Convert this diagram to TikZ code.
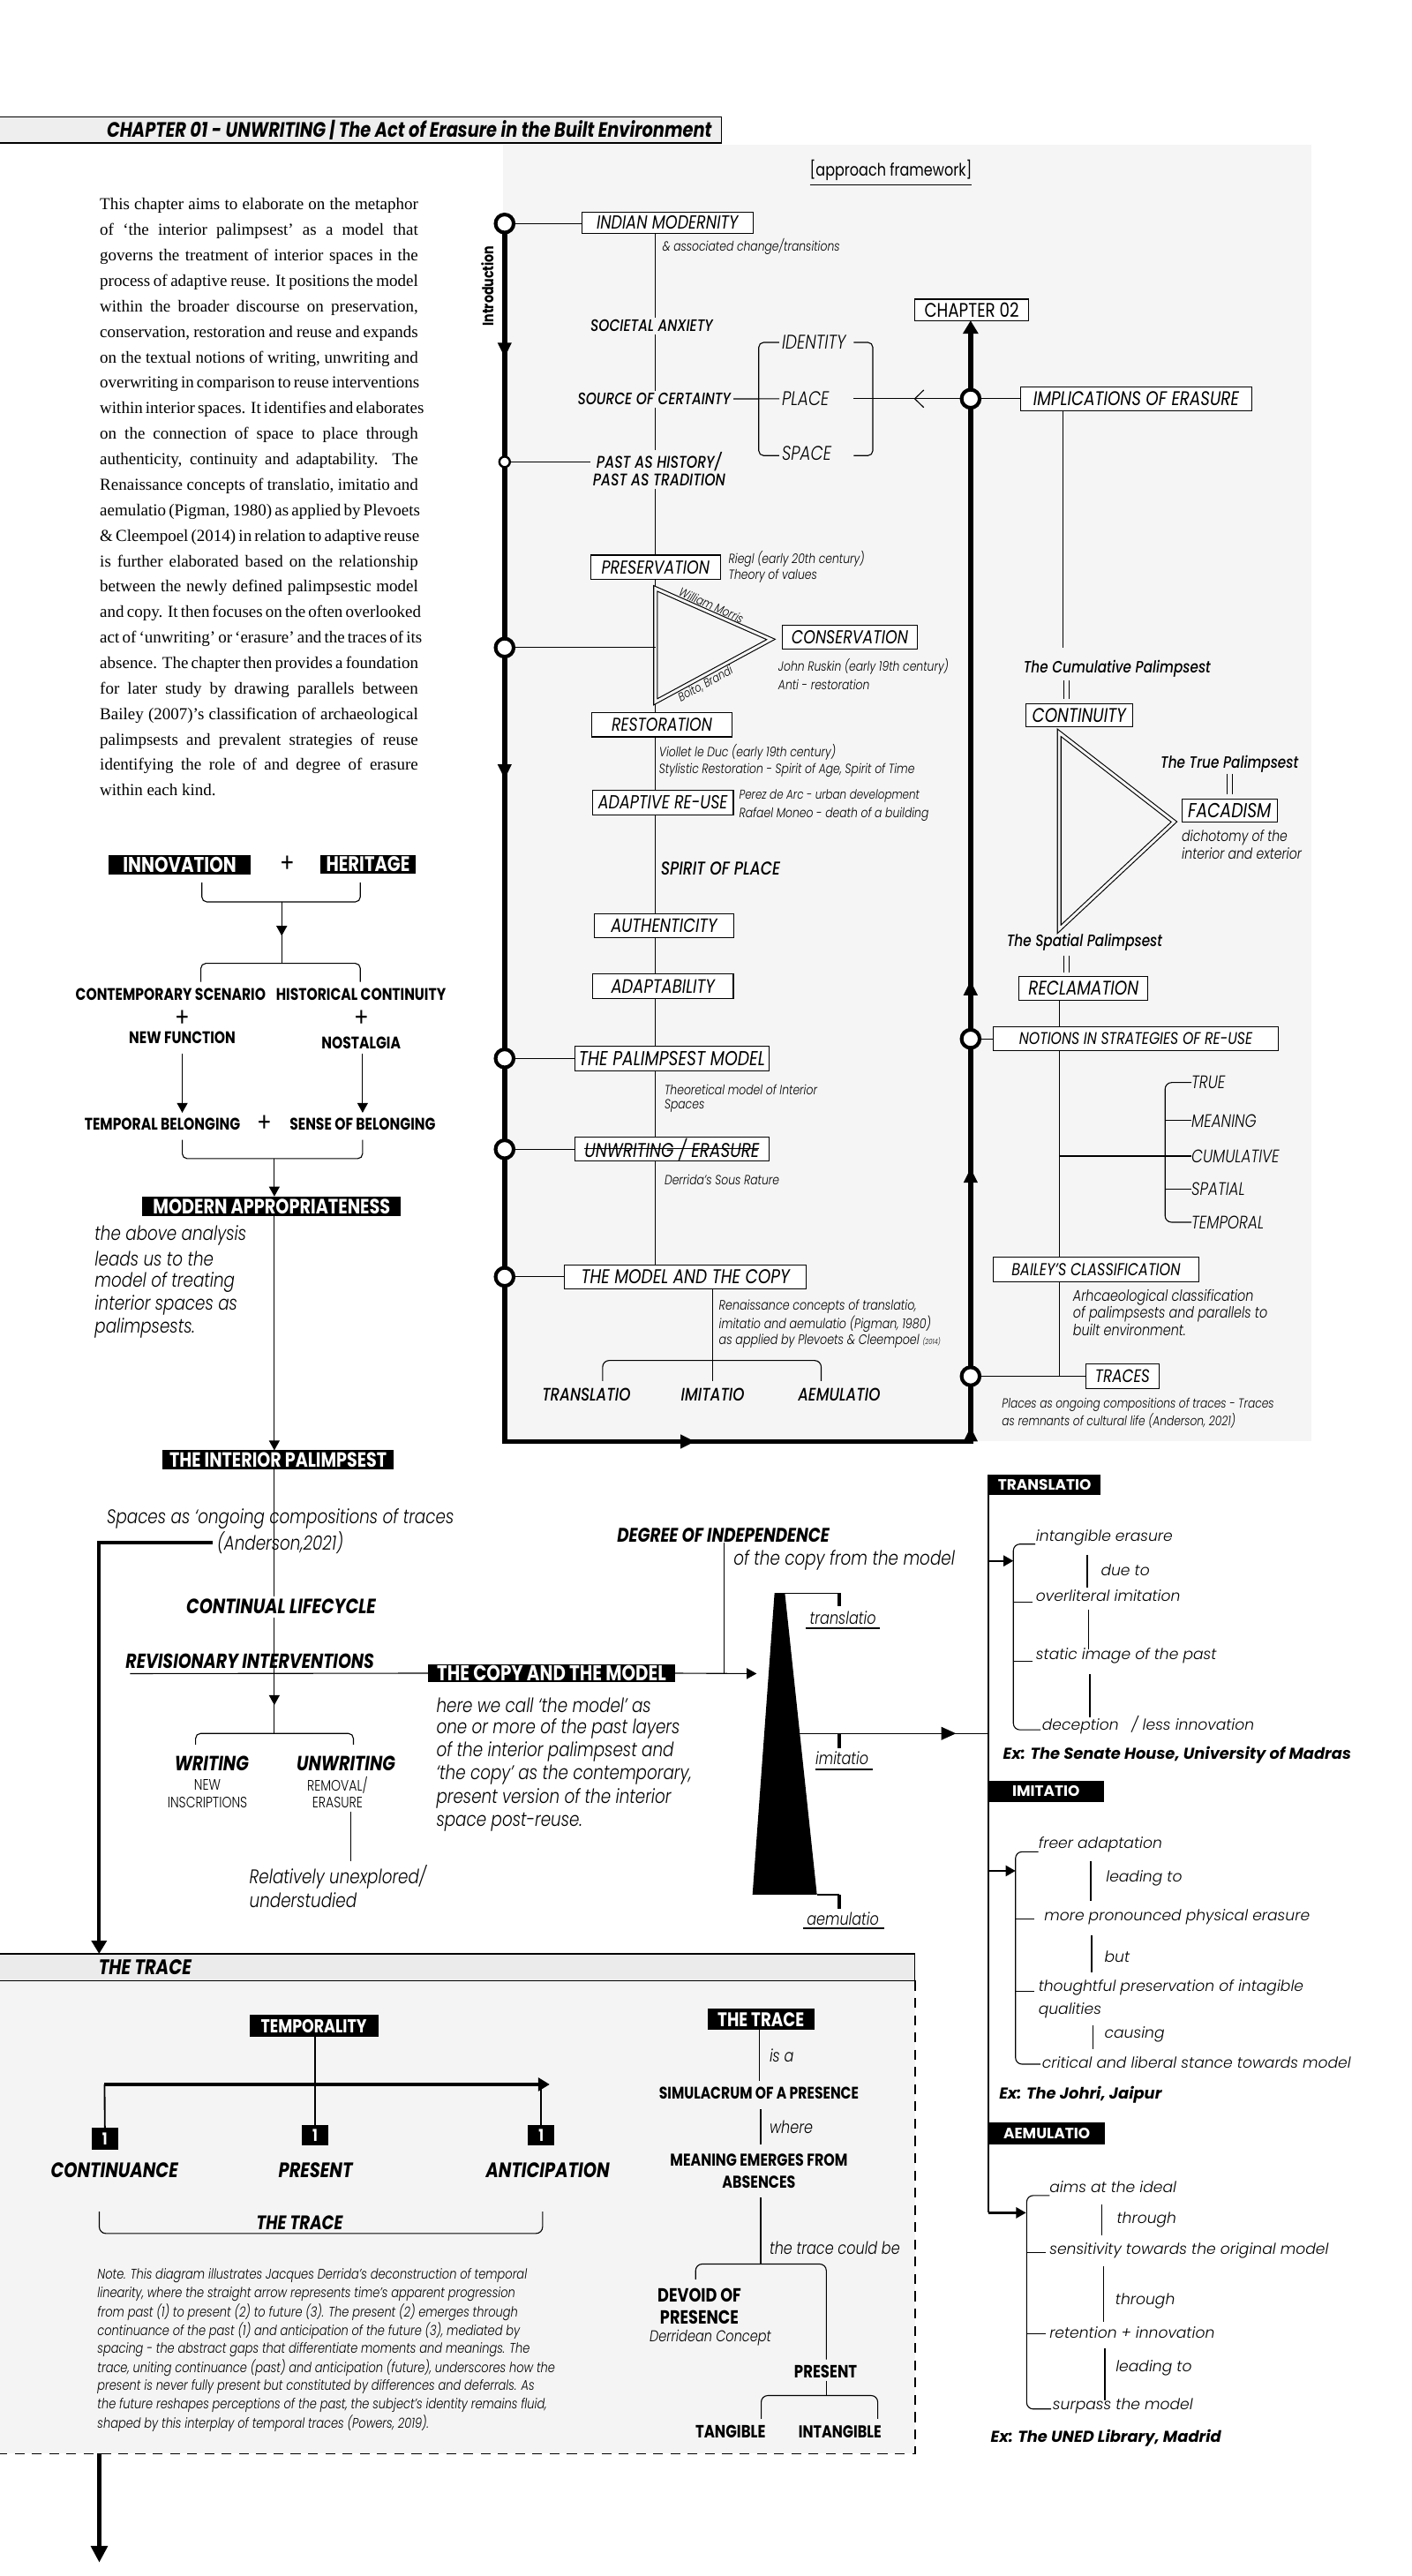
\documentclass[tikz,border=0pt]{standalone}
\usepackage{fontspec}
\setmainfont{Liberation Serif}
\newfontfamily\fu[FakeStretch=0.82]{Poppins}
\newfontfamily\cg{Poppins}
\IfFontExistsTF{Poppins Light}
 {\newfontfamily\ful[FakeStretch=0.82]{Poppins Light}\newfontfamily\cgl{Poppins Light}}
 {\newfontfamily\ful[FakeStretch=0.82]{Poppins}\newfontfamily\cgl{Poppins}}
\IfFontExistsTF{Poppins Medium}
 {\newfontfamily\fum[FakeStretch=0.82]{Poppins Medium}}
 {\newfontfamily\fum[FakeStretch=0.82]{Poppins}}
\usetikzlibrary{arrows.meta}
\newcommand\fsz[1]{\fontsize{#1}{#1}\selectfont}
\definecolor{panel}{HTML}{F5F5F5}
\definecolor{hdrg}{HTML}{EEEEEE}
\definecolor{trh}{HTML}{EBEBEB}
\definecolor{trb}{HTML}{F4F4F4}
\pgfdeclarelayer{bg}
\pgfdeclarelayer{ln}
\pgfsetlayers{bg,ln,main}
\begin{document}
\begin{tikzpicture}[x=1pt,y=-1pt,
  every node/.style={inner sep=0pt,outer sep=0pt},
  thn/.style={line width=0.6pt},
  vb/.style={line width=0.9pt},
  thk/.style={line width=3pt},
  bx/.style={draw,line width=0.6pt,fill=white,font=\fu\itshape\fsz{11.8}},
  bf/.style={font=\fu\itshape\fsz{#1}},
  blk/.style={fill=black,text=white,font=\fu\bfseries\fsz{10.5}},
  cL/.style={circle,draw,line width=2.2pt,fill=white,minimum size=11pt},
  cS/.style={circle,draw,line width=1.3pt,fill=white,minimum size=6.4pt},
  lab/.style={font=\fum\itshape\fsz{10.1},fill=panel,inner sep=1.5pt},
  nt/.style={anchor=west,font=\ful\itshape\fsz{8.1}},
  bt/.style={font=\fu\bfseries\fsz{10.2}},
  bi/.style={font=\fu\bfseries\itshape\fsz{12.5}},
  li/.style={anchor=west,font=\ful\itshape\fsz{12}},
  rc/.style={anchor=west,font=\cgl\itshape\fsz{9.2}},
  rb/.style={fill=black,text=white,font=\cg\bfseries\fsz{9.1}},
  ex/.style={anchor=west,font=\cg\bfseries\itshape\fsz{9.6}},
  tipB/.style={-{Triangle[length=8pt,width=9pt]}},
  tipM/.style={-{Triangle[length=9pt,width=8pt]}},
  tipS/.style={-{Triangle[length=6pt,width=6.5pt]}},
  dbl/.style={line width=0.6pt,double=panel,double distance=1.6pt,line join=miter}
]
\useasboundingbox (0,0) rectangle (859,1567.2);
\begin{pgfonlayer}{bg}
 \fill[white] (0,0) rectangle (859,1567.2);
 \fill[panel] (306,88) rectangle (798,877);
 \fill[trb] (0,1205) rectangle (556.6,1492.8);
\end{pgfonlayer}

% ---------------- header
\node[fill=hdrg,anchor=north west,minimum width=439pt,minimum height=16pt] (hdrbox) at (0,71) {};
\draw[line width=0.7pt] (hdrbox.north west) -- (hdrbox.north east) -- (hdrbox.south east) -- (hdrbox.south west);
\node[anchor=base east,font=\fu\bfseries\itshape\fsz{12.7}] (hdr) at (433,83.7) {CHAPTER 01 - UNWRITING | The Act of Erasure in the Built Environment};

% ---------------- paragraph
\foreach \pl [count=\i from 0] in {
 {This chapter aims to elaborate on the metaphor},
 {of ‘the interior palimpsest’ as a model that},
 {governs the treatment of interior spaces in the},
 {process of adaptive reuse. It positions the model},
 {within the broader discourse on preservation,},
 {conservation, restoration and reuse and expands},
 {on the textual notions of writing, unwriting and},
 {overwriting in comparison to reuse interventions},
 {within interior spaces. It identifies and elaborates},
 {on the connection of space to place through},
 {authenticity, continuity and adaptability. The},
 {Renaissance concepts of translatio, imitatio and},
 {aemulatio (Pigman, 1980) as applied by Plevoets},
 {\& Cleempoel (2014) in relation to adaptive reuse},
 {is further elaborated based on the relationship},
 {between the newly defined palimpsestic model},
 {and copy. It then focuses on the often overlooked},
 {act of ‘unwriting’ or ‘erasure’ and the traces of its},
 {absence. The chapter then provides a foundation},
 {for later study by drawing parallels between},
 {Bailey (2007)’s classification of archaeological},
 {palimpsests and prevalent strategies of reuse},
 {identifying the role of and degree of erasure}}
 \node[anchor=base west,font=\fsz{10.2}] (par\i) at (60.8,127.7+15.5*\i) {\makebox[193.6pt][s]{\pl}};
\node[anchor=base west,font=\fsz{10.2}] (par23) at (60.8,484.2) {within each kind.};

% ---------------- framework: texts and boxes
\node[font=\fu\fsz{10.5}] (apf) at (542,103.5) {[approach framework]};
\node[rotate=90,font=\fu\bfseries\fsz{9.3}] (intro) at (296.5,174) {Introduction};

\node[bx,bf=11.5,minimum width=104pt,minimum height=13pt] (im) at (406,135.5) {INDIAN MODERNITY};
\node[lab] (soc) at (396.5,198.3) {SOCIETAL ANXIETY};
\node[lab] (src) at (398,242.7) {SOURCE OF CERTAINTY};
\node[lab,align=center,font=\fum\itshape\fontsize{10.3}{10.6}\selectfont] (past) at (401,285.5) {PAST AS HISTORY/\\PAST AS TRADITION};
\node[bx,bf=11.4,minimum width=79pt,minimum height=14.8pt] (pres) at (398.8,345.1) {PRESERVATION};
\node[bx,bf=11.4,minimum width=82pt,minimum height=14.8pt] (cons) at (517,387.6) {CONSERVATION};
\node[bx,bf=11.3,minimum width=85.6pt,minimum height=14.8pt] (rest) at (402.7,440.9) {RESTORATION};
\node[bx,bf=11.5,minimum width=85.7pt,minimum height=14.6pt] (adr) at (403.3,488.3) {ADAPTIVE RE-USE};
\node[anchor=west,font=\fum\itshape\fsz{11.3}] (spp) at (402,528.6) {SPIRIT OF PLACE};
\node[bx,bf=11.7,minimum width=85pt,minimum height=14.6pt] (auth) at (404,563.3) {AUTHENTICITY};
\node[bx,bf=11.8,minimum width=85.7pt,minimum height=14.7pt] (adap) at (403.3,600) {ADAPTABILITY};
\node[bx,bf=12.3,minimum width=118.5pt,minimum height=15pt] (pal) at (408.8,643.9) {THE PALIMPSEST MODEL};
\node[bx,minimum width=118.5pt,minimum height=14.5pt] (unw) at (408.8,699.2) {};
\node[font=\fu\itshape\fsz{12.1}] (unwt) at (408.8,699.2) {UNWRITING / ERASURE};
\node[bx,bf=12.1,minimum width=147pt,minimum height=14.7pt] (mac) at (417,776.8) {THE MODEL AND THE COPY};

\node[anchor=west,font=\ful\itshape\fsz{12}] (idt) at (475.7,208.3) {IDENTITY};
\node[anchor=west,font=\ful\itshape\fsz{12}] (plc) at (475.7,242.6) {PLACE};
\node[anchor=west,font=\ful\itshape\fsz{12}] (spc) at (475.7,276) {SPACE};

\node[nt] (n1) at (403,150) {\& associated change/transitions};
\node[nt] (n2a) at (443.3,340.1) {Riegl (early 20th century)};
\node[nt] (n2b) at (443.3,350.3) {Theory of values};
\node[nt] (n3a) at (473.5,405.3) {John Ruskin (early 19th century)};
\node[nt] (n3b) at (473.5,416.6) {Anti - restoration};
\node[nt] (n4a) at (401,457.4) {Viollet le Duc (early 19th century)};
\node[nt] (n4b) at (401,468.8) {Stylistic Restoration - Spirit of Age, Spirit of Time};
\node[nt,font=\ful\itshape\fsz{7.8}] (n5a) at (449.7,484.4) {Perez de Arc - urban development};
\node[nt] (n5b) at (449.7,495.6) {Rafael Moneo - death of a building};
\node[nt] (n6a) at (404.3,663) {Theoretical model of Interior};
\node[nt] (n6b) at (404.3,672.9) {Spaces};
\node[nt] (n7) at (404.3,717.7) {Derrida’s Sous Rature};
\node[nt,font=\ful\itshape\fsz{8.3}] (n8a) at (437.4,794.9) {Renaissance concepts of translatio,};
\node[nt,font=\ful\itshape\fsz{8.3}] (n8b) at (437.4,805.3) {imitatio and aemulatio (Pigman, 1980)};
\node[nt,font=\ful\itshape\fsz{8.3}] (n8c) at (437.4,815.7) {as applied by Plevoets \& Cleempoel {\fsz{4.5}(2014)}};

\node[font=\fum\itshape\fsz{11}] (ttra) at (356.7,848.6) {TRANSLATIO};
\node[font=\fum\itshape\fsz{11}] (timi) at (433.6,848.6) {IMITATIO};
\node[font=\fum\itshape\fsz{11}] (taem) at (510.5,848.6) {AEMULATIO};

% right side of framework
\node[bx,font=\fu\fsz{12},minimum width=69.5pt,minimum height=13pt] (ch2) at (591.2,188.5) {CHAPTER 02};
\node[bx,bf=12,minimum width=140.3pt,minimum height=14.7pt] (imp) at (691.2,242.6) {IMPLICATIONS OF ERASURE};
\node[font=\fum\itshape\fsz{10}] (cump) at (679.6,406.6) {The Cumulative Palimpsest};
\node[bx,bf=12,minimum width=65pt,minimum height=14pt] (cont) at (656.5,435) {CONTINUITY};
\node[font=\fum\itshape\fsz{10}] (truep) at (748,465) {The True Palimpsest};
\node[bx,bf=12.3,minimum width=58pt,minimum height=14pt] (fac) at (748,493.3) {FACADISM};
\node[nt,font=\ful\itshape\fsz{9.2}] (n9a) at (719,509.4) {dichotomy of the};
\node[nt,font=\ful\itshape\fsz{9.2}] (n9b) at (719,519.2) {interior and exterior};
\node[font=\fum\itshape\fsz{10}] (spap) at (659.8,573.3) {The Spatial Palimpsest};
\node[bx,bf=12,minimum width=78.5pt,minimum height=14.4pt] (recl) at (659.2,601.4) {RECLAMATION};
\node[bx,bf=10.3,minimum width=173.5pt,minimum height=14.5pt] (notn) at (691,632) {NOTIONS IN STRATEGIES OF RE-USE};
\node[anchor=west,font=\ful\itshape\fsz{11}] (ktrue) at (724.9,658.6) {TRUE};
\node[anchor=west,font=\ful\itshape\fsz{11}] (kmean) at (724.9,681.8) {MEANING};
\node[anchor=west,font=\ful\itshape\fsz{11}] (kcum) at (724.9,703.3) {CUMULATIVE};
\node[anchor=west,font=\ful\itshape\fsz{11}] (kspa) at (724.9,723.3) {SPATIAL};
\node[anchor=west,font=\ful\itshape\fsz{11}] (ktem) at (724.9,743.6) {TEMPORAL};
\node[bx,bf=10.5,minimum width=125.2pt,minimum height=14.7pt] (bail) at (666.8,772.3) {BAILEY’S CLASSIFICATION};
\node[nt,font=\ful\itshape\fsz{9.4}] (n10a) at (652.8,789.6) {Arhcaeological classification};
\node[nt,font=\ful\itshape\fsz{9.4}] (n10b) at (652.8,799.6) {of palimpsests and parallels to};
\node[nt,font=\ful\itshape\fsz{9.4}] (n10c) at (652.8,809.2) {built environment.};
\node[bx,bf=11,minimum width=44.4pt,minimum height=14.7pt] (trc) at (682.9,837.3) {TRACES};
\node[nt,font=\ful\itshape\fsz{8}] (n11a) at (609.6,854.6) {Places as ongoing compositions of traces - Traces};
\node[nt,font=\ful\itshape\fsz{8}] (n11b) at (609.6,864.4) {as remnants of cultural life (Anderson, 2021)};

% circles
\node[cL] (c1) at (307,136) {};
\node[cS] (c2) at (307,281) {};
\node[cL] (c3) at (307,394) {};
\node[cL] (c4) at (307,643.9) {};
\node[cL] (c5) at (307,699.2) {};
\node[cL] (c6) at (307,776.8) {};
\node[cL] (r1) at (590.5,242.6) {};
\node[cL] (r2) at (590.5,632) {};
\node[cL] (r3) at (590.5,837.3) {};

\coordinate (tA) at (398.8,358);
\coordinate (tB) at (469,389);
\coordinate (tC) at (398.8,427);
\path (tA) -- node[sloped,above=1.5pt,pos=0.46,font=\ful\itshape\fsz{7.5}] (wm) {William Morris} (tB);
\path (tC) -- node[sloped,below=1.8pt,pos=0.4,font=\ful\itshape\fsz{7.3}] (bbr) {Boito, Brandi} (tB);

\begin{pgfonlayer}{ln}
 \draw[thn] ([yshift=-2.5pt]apf.south west) -- ([yshift=-2.5pt]apf.south east);
 \draw[thk,line join=miter,tipB] (c1.center) -- (307,877) -- (590.5,877) -- (r1 |- ch2.south);
 \draw[thk,tipM] (307,205) -- (307,217.5);
 \draw[thk,tipM] (307,462) -- (307,474);
 \draw[thk,tipM] (410,877) -- (423,877);
 \draw[thk,tipM] (590.5,877) -- (590.5,868);
 \draw[thk,tipM] (590.5,722) -- (590.5,710.5);
 \draw[thk,tipM] (590.5,608) -- (590.5,596.5);
 % left column spine
 \draw[thn] (pres.center |- im.south) -- (pres.center |- mac.north);
 \draw[dbl] (tA) -- (tB) -- (tC) -- cycle;
 \draw[thn] (c1.east) -- (c1.east -| im.west);
 \draw[thn] (c2.east) -- (c2.east -| past.west);
 \draw[thn] (c3.east) -- (c3.east -| tA);
 \draw[thn] (c4.east) -- (c4.east -| pal.west);
 \draw[thn] (c5.east) -- (c5.east -| unw.west);
 \draw[thn] (c6.east) -- (c6.east -| mac.west);
 % identity bracket
 \draw[thn] (src.east) -- ([xshift=-1.5pt]plc.west);
 \draw[thn,rounded corners=3pt] (474,208.3) -- (461.6,208.3) -- (461.6,277.2) -- (474,277.2);
 \draw[thn,rounded corners=3pt] (519.4,208.3) -- (531,208.3) -- (531,277.2) -- (519.4,277.2);
 \coordinate (pe) at (519.4,242.6);
 \draw[thn] (r1.west) -- (pe);
 \draw[thn] (562,237.3) -- (556.5,242.6) -- (562,247.9);
 \draw[thn] (r1.east) -- (r1.east -| imp.west);
 % bottom bracket
 \draw[thn] (mac.south -| timi.north) -- (433.6,840.2);
 \draw[thn,rounded corners=4pt] (366.6,840.2) -- (366.6,827.7) -- (499.6,827.7) -- (499.6,840.2);
 % right column chain
 \draw[thn] (646.7,250) -- (646.7,394);
 \draw[thn] (647,413.8) -- (647,425) (650.5,413.8) -- (650.5,425);
 \draw[dbl] (644.4,445.8) -- (714.3,500) -- (644.4,565.3) -- cycle;
 \draw[thn] (746.4,471) -- (746.4,483) (749.8,471) -- (749.8,483);
 \draw[thn] (647,581.4) -- (647,591.7) (650.5,581.4) -- (650.5,591.7);
 \coordinate (vx) at (644.4,0);
 \draw[thn] (recl.south -| vx) -- (notn.north -| vx);
 \draw[thn] (notn.south -| vx) -- (vx |- r3);
 \draw[thn] (r2.east) -- (r2.east -| notn.west);
 \draw[thn] (r3.east) -- (r3.east -| trc.west);
 \draw[thn] (644.4,703.3) -- (kcum.west);
 \draw[thn,rounded corners=4pt] (ktrue.west) -- (708.8,658.6) -- (708.8,743.6) -- (ktem.west);
 \draw[thn] (708.8,681.8) -- (kmean.west) (708.8,723.3) -- (kspa.west);
\end{pgfonlayer}
\draw[line width=0.6pt] ([yshift=0.3pt]unwt.west) -- ([yshift=0.3pt]unwt.east);

% ---------------- left flowchart
\node[blk,font=\fu\bfseries\fsz{13},minimum width=86.2pt,minimum height=11.8pt] (inn) at (109.3,526) {INNOVATION};
\node[font=\fu\fsz{16}] (pl1) at (174.8,526) {+};
\node[blk,font=\fu\bfseries\fsz{12.8},minimum width=58.3pt,minimum height=11.4pt] (her) at (223.9,525.7) {HERITAGE};
\node[bt] (cs) at (103.8,605.2) {CONTEMPORARY SCENARIO};
\node[bt] (hc) at (219.6,605.2) {HISTORICAL CONTINUITY};
\node[font=\fu\fsz{16}] (pl2) at (110.9,619.8) {+};
\node[font=\fu\fsz{16}] (pl3) at (220,619.8) {+};
\node[bt] (nf) at (110.9,631.3) {NEW FUNCTION};
\node[bt] (nos) at (219.7,634.3) {NOSTALGIA};
\node[bt] (tb) at (98.8,683.8) {TEMPORAL BELONGING};
\node[font=\fu\fsz{16}] (pl4) at (161.2,683.8) {+};
\node[bt] (sb) at (220.6,683.8) {SENSE OF BELONGING};
\node[blk,font=\fu\bfseries\fsz{12.6},minimum width=157.2pt,minimum height=11.8pt] (mod) at (165.3,733.8) {MODERN APPROPRIATENESS};
\node[li] (la1) at (57.7,751.8) {the above analysis};
\node[li] (la2) at (57.7,765.9) {leads us to the};
\node[li] (la3) at (57.7,779.9) {model of treating};
\node[li] (la4) at (57.7,793.9) {interior spaces as};
\node[li] (la5) at (57.7,808) {palimpsests.};
\node[blk,font=\fu\bfseries\fsz{12.5},minimum width=140.7pt,minimum height=11.7pt] (ipal) at (169.2,888.2) {THE INTERIOR PALIMPSEST};
\node[font=\ful\itshape\fsz{12}] (sp1) at (170.6,924.2) {Spaces as ‘ongoing compositions of traces};
\node[font=\ful\itshape\fsz{12}] (and) at (170.5,938.6) {(Anderson,2021)};
\node[fill=white,inner sep=2pt,font=\fu\bfseries\itshape\fsz{12.6}] (cl) at (171,977.5) {CONTINUAL LIFECYCLE};
\node[anchor=west,font=\fu\bfseries\itshape\fsz{12.4}] (rev) at (76.5,1010.5) {REVISIONARY INTERVENTIONS};
\node[blk,font=\fu\bfseries\fsz{13},minimum width=149.9pt,minimum height=11.1pt] (cm) at (335.55,1017.95) {THE COPY AND THE MODEL};
\node[font=\fu\bfseries\itshape\fsz{12}] (deg) at (440,934.2) {DEGREE OF INDEPENDENCE};
\node[anchor=west,font=\ful\itshape\fsz{12}] (ofc) at (446.3,949.1) {of the copy from the model};
\node[bi] (wri) at (128.8,1072.8) {WRITING};
\node[bi] (unwr) at (210.5,1072.8) {UNWRITING};
\node[font=\ful\fsz{9.2}] (new1) at (126.2,1085.8) {NEW};
\node[font=\ful\fsz{9.2}] (new2) at (126.2,1096.4) {INSCRIPTIONS};
\node[font=\ful\fsz{9.2}] (rem1) at (205.3,1085.8) {REMOVAL/};
\node[font=\ful\fsz{9.2}] (rem2) at (205.3,1096.4) {ERASURE};
\node[li] (rel1) at (151.8,1141.8) {Relatively unexplored/};
\node[li] (rel2) at (151.8,1156.2) {understudied};
\node[li] (hw1) at (265.5,1037.3) {here we call ‘the model’ as};
\node[li] (hw2) at (265.5,1051.5) {one or more of the past layers};
\node[li] (hw3) at (265.5,1065.7) {of the interior palimpsest and};
\node[li] (hw4) at (265.5,1079.9) {‘the copy’ as the contemporary,};
\node[li] (hw5) at (265.5,1094.1) {present version of the interior};
\node[li] (hw6) at (265.5,1108.3) {space post-reuse.};

% wedge
\fill (471.2,969.2) -- (477.5,969.2) -- (497,1152.7) -- (457.8,1152.7) -- cycle;
\coordinate (tz1) at (477.5,969.2);
\coordinate (tzm) at (486.6,1054.6);
\coordinate (tz2) at (497,1152.7);
\node[font=\ful\itshape\fsz{10.5}] (ktl) at (512.8,984) {translatio};
\node[font=\ful\itshape\fsz{10.5}] (kim) at (512.3,1069.4) {imitatio};
\node[font=\ful\itshape\fsz{10.5}] (kae) at (512.8,1167.5) {aemulatio};

% right column
\node[rb,minimum width=68.4pt,minimum height=12.4pt] (bt1) at (635.5,903.1) {TRANSLATIO};
\node[rb,minimum width=70.2pt,minimum height=13.2pt] (bt2) at (636.4,1089.9) {IMITATIO};
\node[rb,minimum width=71pt,minimum height=13.6pt] (bt3) at (636.8,1298) {AEMULATIO};
\node[rc] (a1) at (630.3,935.7) {intangible erasure};
\node[rc] (a2) at (669.8,955.3) {due to};
\node[rc] (a3) at (630.3,971) {overliteral imitation};
\node[rc] (a4) at (630.3,1007.2) {static image of the past};
\node[rc] (a5) at (634,1049.4) {deception\hspace{5pt} / less innovation};
\node[ex] (e1) at (610.3,1067.5) {Ex: The Senate House, University of Madras};
\node[rc] (b1) at (631.8,1122.1) {freer adaptation};
\node[rc] (b2) at (672.9,1142.8) {leading to};
\node[rc] (b3) at (635.3,1166.2) {more pronounced physical erasure};
\node[rc] (b4) at (672,1190.6) {but};
\node[rc] (b5) at (631.8,1209.5) {thoughtful preservation of intagible};
\node[rc] (b6) at (631.8,1223.3) {qualities};
\node[rc] (b7) at (672,1237.7) {causing};
\node[rc] (b8) at (634,1254.7) {critical and liberal stance towards model};
\node[ex] (e2) at (607.9,1274.2) {Ex: The Johri, Jaipur};
\node[rc] (d1) at (638.5,1330.7) {aims at the ideal};
\node[rc] (d2) at (679.5,1350.7) {through};
\node[rc] (d3) at (638.5,1369.5) {sensitivity towards the original model};
\node[rc] (d4) at (678.6,1399.7) {through};
\node[rc] (d5) at (638.5,1419.2) {retention + innovation};
\node[rc] (d6) at (678.8,1440.4) {leading to};
\node[rc] (d7) at (640.5,1463.9) {surpass the model};
\node[ex] (e3) at (602.7,1483) {Ex: The UNED Library, Madrid};

% ---------------- the trace
\node[fill=trh,anchor=north west,minimum width=556.6pt,minimum height=16.3pt] (trhd) at (0,1188.7) {};
\draw[line width=0.7pt] (trhd.north west) -- (trhd.north east) -- (trhd.south east) -- (trhd.south west);
\node[anchor=west,font=\fu\bfseries\itshape\fsz{12.8}] (trt) at (60,1197) {THE TRACE};
\node[blk,font=\fu\bfseries\fsz{11.4},minimum width=78.4pt,minimum height=13.7pt] (tem) at (190.9,1232.55) {TEMPORALITY};
\node[blk,font=\fu\bfseries\fsz{10},minimum width=16.2pt,minimum height=13.3pt] (o1) at (63.8,1301) {1};
\node[blk,font=\fu\bfseries\fsz{10},minimum width=16.5pt,minimum height=12.8pt] (o2) at (191.6,1299) {1};
\node[blk,font=\fu\bfseries\fsz{10},minimum width=16.2pt,minimum height=12.8pt] (o3) at (329.2,1299) {1};
\node[font=\fu\bfseries\itshape\fsz{12.7}] (kcon) at (69.6,1320.1) {CONTINUANCE};
\node[font=\fu\bfseries\itshape\fsz{12.7}] (kpre) at (192,1320.1) {PRESENT};
\node[font=\fu\bfseries\itshape\fsz{12.7}] (kant) at (333.2,1320.1) {ANTICIPATION};
\node[font=\fu\bfseries\itshape\fsz{11.9}] (ktr) at (182.3,1352.5) {THE TRACE};
\foreach \pl [count=\i from 0] in {
 {Note. This diagram illustrates Jacques Derrida’s deconstruction of temporal},
 {linearity, where the straight arrow represents time’s apparent progression},
 {from past (1) to present (2) to future (3). The present (2) emerges through},
 {continuance of the past (1) and anticipation of the future (3), mediated by},
 {spacing - the abstract gaps that differentiate moments and meanings. The},
 {trace, uniting continuance (past) and anticipation (future), underscores how the},
 {present is never fully present but constituted by differences and deferrals. As},
 {the future reshapes perceptions of the past, the subject’s identity remains fluid,},
 {shaped by this interplay of temporal traces (Powers, 2019).}}
 \node[anchor=west,font=\ful\itshape\fsz{8.5}] (note\i) at (59.3,1384.2+11.28*\i) {\pl};

\node[blk,font=\fu\bfseries\fsz{12},minimum width=65.1pt,minimum height=13pt] (tr2) at (462.95,1228.5) {THE TRACE};
\node[anchor=west,font=\ful\itshape\fsz{10.5}] (isa) at (468.2,1250.7) {is a};
\node[font=\fu\bfseries\fsz{10.2}] (sim) at (461.7,1273.6) {SIMULACRUM OF A PRESENCE};
\node[anchor=west,font=\ful\itshape\fsz{10.5}] (whr) at (468.2,1294.3) {where};
\node[align=center,font=\fu\bfseries\fontsize{10.4}{13}\selectfont] (mea) at (461.7,1320.8) {MEANING EMERGES FROM\\ABSENCES};
\node[anchor=west,font=\ful\itshape\fsz{10.5}] (tcb) at (468.2,1367.4) {the trace could be};
\node[align=center,font=\fu\bfseries\fontsize{11.6}{13.3}\selectfont] (dev) at (425.5,1403.3) {DEVOID OF\\PRESENCE};
\node[font=\ful\itshape\fsz{9.5}] (der) at (432.2,1422.4) {Derridean Concept};
\node[font=\fu\bfseries\fsz{10.8}] (prs) at (502.3,1442.8) {PRESENT};
\node[font=\fu\bfseries\fsz{10.8}] (tan) at (444.4,1479.6) {TANGIBLE};
\node[font=\fu\bfseries\fsz{10.5}] (itan) at (511,1479.6) {INTANGIBLE};

\begin{pgfonlayer}{ln}
 % flowchart connectors
 \draw[thn,rounded corners=3pt] (122.8,537) -- (122.8,548.7) -- (219.2,548.7) -- (219.2,537);
 \draw[thn] (171.4,548.7) -- (171.4,586.1);
 \draw[thn,tipS] (171.4,560) -- (171.4,569.3);
 \draw[thn,rounded corners=3pt] (122.2,597.4) -- (122.2,586.1) -- (219.2,586.1) -- (219.2,597.4);
 \draw[thn,tipS] (110.9,640.9) -- (110.9,677);
 \draw[thn,tipS] (220.6,640.9) -- (220.6,677);
 \draw[thn,rounded corners=3pt] (110.9,693.4) -- (110.9,704.9) -- (220.6,704.9) -- (220.6,693.4);
 \draw[thn,tipS] (166.9,704.9) -- (mod.north -| 166.9,0);
 \draw[thn,tipS] (mod.south -| 166.9,0) -- (ipal.north -| 166.9,0);
 \draw[thn] (ipal.south -| 166.9,0) -- (166.9,1054.6);
 \draw[thn,tipS] (166.9,1028) -- (166.9,1037.3);
 \draw[line width=2.2pt,line join=miter,tipB] ([xshift=-3pt]and.west) -- (60.3,938.6) -- (trhd.north -| 60.3,0);
 \draw[thn] (79.1,1018.2) -- (cm.west);
 \coordinate (wl) at (460.3,1018.2);
 \draw[thn,tipS] (cm.east) -- (wl);
 \draw[thn] (deg.south -| 440.7,0) -- (440.7,1018.2);
 \draw[thn,rounded corners=3pt] (119,1061.3) -- (119,1054.6) -- (215,1054.6) -- (215,1061.3);
 \draw[thn] (213.6,1102.1) -- (213.6,1132.2);
 % wedge ticks
 \draw[thn] (tz1) -- (510.6,969.2);
 \draw[line width=2.4pt] (510.6,969.2) -- (510.6,977.3);
 \draw[line width=0.9pt] (490.3,990.5) -- (535.4,990.5);
 \coordinate (rvx) at (601.3,1054.6);
 \draw[thn] (tzm) -- (rvx);
 \draw[thn,tipM] (573,1054.6) -- (581.6,1054.6);
 \draw[line width=2.4pt] (510.6,1054.6) -- (510.6,1063.4);
 \draw[line width=0.9pt] (495.9,1076.6) -- (530.8,1076.6);
 \draw[thn] (tz2) -- (510.6,1152.7);
 \draw[line width=2.4pt] (510.6,1152.7) -- (510.6,1161.4);
 \draw[line width=0.9pt] (488.8,1173.1) -- (538,1173.1);
 % right column
 \draw[line width=1.2pt] (bt1.north west) -- (601.3,1346.2);
 \draw[line width=1.2pt,tipS] (601.3,1346.2) -- (624.2,1346.2);
 \draw[line width=1.2pt,tipS] (601.3,949.6) -- (616.5,949.6);
 \draw[line width=1.2pt,tipS] (601.3,1138.2) -- (617.8,1138.2);
 \draw[thn,rounded corners=4pt] (629.9,939.4) -- (616.5,939.4) -- (616.5,1052.4) -- (633,1052.4);
 \draw[thn] (616.5,974.8) -- (628.1,974.8) (616.5,1010.9) -- (628.1,1010.9);
 \draw[vb] (661.6,945.9) -- (661.6,965.8);
 \draw[vb] (662.2,979.4) -- (662.2,1003.4);
 \draw[vb] (663,1018.4) -- (663,1045);
 \draw[thn,rounded corners=4pt] (631.7,1126.6) -- (617.8,1126.6) -- (617.8,1255.8) -- (633,1255.8);
 \draw[thn] (617.8,1167.3) -- (629,1167.3) (617.8,1211.4) -- (629,1211.4);
 \draw[vb] (663.6,1132.2) -- (663.6,1156.6);
 \draw[vb] (664.3,1177.4) -- (664.3,1200);
 \draw[vb] (665,1232.1) -- (665,1246.4);
 \draw[thn,rounded corners=4pt] (638.5,1335.7) -- (624.6,1335.7) -- (624.6,1465.6) -- (639.5,1465.6);
 \draw[thn] (624.6,1370.5) -- (636,1370.5) (624.6,1420) -- (636,1420);
 \draw[vb] (670.3,1341) -- (670.3,1360);
 \draw[vb] (671.3,1378.6) -- (671.3,1412.5);
 \draw[vb] (672.2,1428.9) -- (672.2,1460.2);
 % trace
 \draw[line width=0.9pt,dash pattern=on 6pt off 4.5pt] (trhd.south east) -- (556.6,1492.8) -- (0,1492.8);
 \draw[line width=2.2pt,-{Triangle[length=10pt,width=10pt]}] (60.4,1492.8) -- (60.4,1558.9);
 \draw[line width=2.4pt,-{Triangle[length=7pt,width=8pt]}] (63.6,1268.1) -- (334.4,1268.1);
 \draw[line width=1pt] (63.6,1268.1) -- (o1.north);
 \draw[line width=0.8pt] (o2.north |- tem.south) -- (o2.north);
 \draw[line width=1pt] (329.2,1268.1) -- (o3.north);
 \draw[thn,rounded corners=4pt] (60.4,1345.5) -- (60.4,1358.8) -- (330.1,1358.8) -- (330.1,1345.5);
 \draw[thn] (tr2.south -| 462.1,0) -- (462.1,1266.1);
 \draw[thn] (462.8,1283.4) -- (462.8,1304.9);
 \draw[thn] (462.8,1336.8) -- (462.8,1377.4);
 \draw[thn,rounded corners=4pt] (423.2,1386.7) -- (423.2,1377.4) -- (502.7,1377.4) -- (502.7,1435.4);
 \draw[thn] (502.7,1448.6) -- (502.7,1457.4);
 \draw[thn,rounded corners=4pt] (463.1,1471.6) -- (463.1,1457.4) -- (534,1457.4) -- (534,1471.6);
\end{pgfonlayer}
\end{tikzpicture}
\end{document}
